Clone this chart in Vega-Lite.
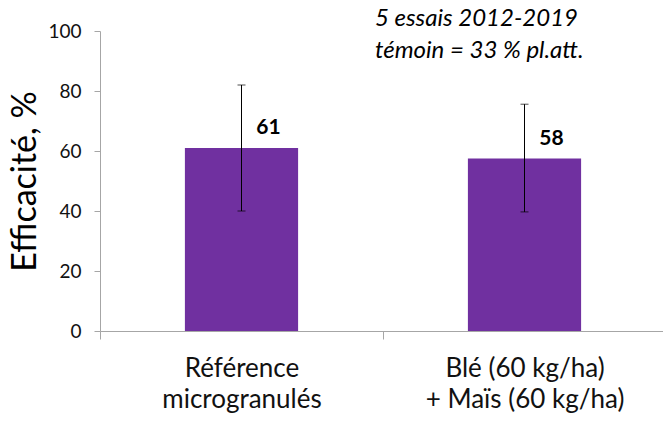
{
  "$schema": "https://vega.github.io/schema/vega-lite/v6.json",
  "width": 566,
  "height": 300,
  "autosize": "none",
  "padding": {"left": 100, "top": 31, "right": 0, "bottom": 90},
  "background": "white",
  "config": {"view": {"stroke": null}, "font": "Lato"},
  "data": {"values": [
    {"cat": "Référence|microgranulés", "eff": 61, "lo": 40, "hi": 82, "label": "61"},
    {"cat": "Blé (60 kg/ha)|+ Maïs (60 kg/ha)", "eff": 57.5, "lo": 39.7, "hi": 75.6, "label": "58"}
  ]},
  "encoding": {
    "x": {
      "field": "cat", "type": "nominal", "sort": null,
      "scale": {"paddingInner": 0, "paddingOuter": 0},
      "axis": {
        "title": null, "labelAngle": 0, "tickBand": "extent", "tickSize": 8,
        "domainColor": "#a6a6a6", "tickColor": "#a6a6a6",
        "labelExpr": "split(datum.label, '|')", "labelLimit": 0,
        "labelFontSize": 26, "labelLineHeight": 31, "labelPadding": 16,
        "labelColor": "#111111"
      }
    }
  },
  "layer": [
    {
      "mark": {"type": "bar", "color": "#7030A0", "width": {"band": 0.4}},
      "encoding": {
        "y": {
          "field": "eff", "type": "quantitative",
          "scale": {"domain": [0, 100], "nice": false},
          "axis": {
            "title": "Efficacité, %", "titleFontSize": 34, "titleFontWeight": "normal",
            "titleColor": "#000000", "titlePadding": 5,
            "values": [0, 20, 40, 60, 80, 100], "grid": false, "tickSize": 6,
            "domainColor": "#a6a6a6", "tickColor": "#a6a6a6",
            "labelFontSize": 19, "labelPadding": 13, "labelColor": "#111111"
          }
        }
      }
    },
    {
      "mark": {"type": "rule", "color": "#000000", "strokeWidth": 1},
      "encoding": {"y": {"field": "lo", "type": "quantitative"}, "y2": {"field": "hi"}}
    },
    {
      "mark": {"type": "tick", "color": "#000000", "size": 8, "thickness": 1},
      "encoding": {"y": {"field": "lo", "type": "quantitative"}}
    },
    {
      "mark": {"type": "tick", "color": "#000000", "size": 8, "thickness": 1},
      "encoding": {"y": {"field": "hi", "type": "quantitative"}}
    },
    {
      "mark": {"type": "text", "dx": 27, "dy": -20, "baseline": "middle", "fontWeight": "bold", "fontSize": 21, "color": "#000000"},
      "encoding": {"y": {"field": "eff", "type": "quantitative"}, "text": {"field": "label"}}
    },
    {
      "data": {"values": [{"note": "5 essais 2012-2019\ntémoin = 33 % pl.att."}]},
      "mark": {"type": "text", "align": "left", "baseline": "alphabetic", "fontStyle": "italic", "fontSize": 24, "lineBreak": "\n", "lineHeight": 32, "dx": -8, "color": "#000000"},
      "encoding": {
        "x": {"datum": "Blé (60 kg/ha)|+ Maïs (60 kg/ha)", "type": "nominal", "bandPosition": 0},
        "y": {"datum": 101.7, "type": "quantitative"},
        "text": {"field": "note"}
      }
    }
  ]
}
